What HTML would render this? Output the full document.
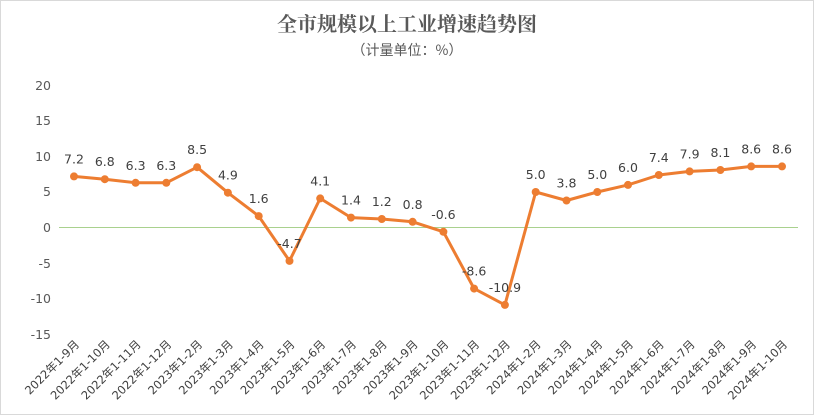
<!DOCTYPE html>
<html><head><meta charset="utf-8"><style>
html,body{margin:0;padding:0;background:#fff}
svg{display:block}
text{font-family:"DejaVu Sans","Noto Sans CJK SC",sans-serif}
</style></head><body>
<svg width="814" height="415" viewBox="0 0 814 415" xmlns="http://www.w3.org/2000/svg">
<rect x="0.5" y="0.5" width="813" height="414" fill="#fff" stroke="#d9d9d9"/>
<text x="407" y="31" text-anchor="middle" font-size="20" font-weight="bold" fill="#595959" style="font-family:'Noto Serif CJK SC','Noto Sans CJK SC',serif">全市规模以上工业增速趋势图</text>
<text x="407" y="55" text-anchor="middle" font-size="14" fill="#595959" style="font-family:'Noto Sans CJK SC',sans-serif">（计量单位：%）</text>
<g font-size="12.5" fill="#595959" text-anchor="end">
<text x="51" y="90">20</text><text x="51" y="125">15</text><text x="51" y="161">10</text><text x="51" y="196">5</text><text x="51" y="232">0</text><text x="51" y="268">-5</text><text x="51" y="303">-10</text><text x="51" y="339">-15</text>
</g>
<line x1="59" y1="227.5" x2="798" y2="227.5" stroke="#a9d18e" stroke-width="1"/>
<polyline fill="none" stroke="#ED7D31" stroke-width="3" stroke-linejoin="round" points="74,176.4 104.8,179.2 135.6,182.8 166.3,182.8 197.1,167.2 227.9,192.7 258.7,216.1 289.5,260.9 320.2,198.4 351,217.6 381.8,219 412.6,221.8 443.4,231.8 474.1,288.6 504.9,304.9 535.7,192 566.5,200.5 597.3,192 628,184.9 658.8,175 689.6,171.4 720.4,170 751.2,166.4 782,166.4"/>
<g fill="#ED7D31">
<circle cx="74" cy="176.4" r="4"/><circle cx="104.8" cy="179.2" r="4"/><circle cx="135.6" cy="182.8" r="4"/><circle cx="166.3" cy="182.8" r="4"/><circle cx="197.1" cy="167.2" r="4"/><circle cx="227.9" cy="192.7" r="4"/><circle cx="258.7" cy="216.1" r="4"/><circle cx="289.5" cy="260.9" r="4"/><circle cx="320.2" cy="198.4" r="4"/><circle cx="351" cy="217.6" r="4"/><circle cx="381.8" cy="219" r="4"/><circle cx="412.6" cy="221.8" r="4"/><circle cx="443.4" cy="231.8" r="4"/><circle cx="474.1" cy="288.6" r="4"/><circle cx="504.9" cy="304.9" r="4"/><circle cx="535.7" cy="192" r="4"/><circle cx="566.5" cy="200.5" r="4"/><circle cx="597.3" cy="192" r="4"/><circle cx="628" cy="184.9" r="4"/><circle cx="658.8" cy="175" r="4"/><circle cx="689.6" cy="171.4" r="4"/><circle cx="720.4" cy="170" r="4"/><circle cx="751.2" cy="166.4" r="4"/><circle cx="782" cy="166.4" r="4"/>
</g>
<g font-size="12.5" fill="#404040" text-anchor="middle">
<text x="74" y="163.4">7.2</text><text x="104.8" y="166.2">6.8</text><text x="135.6" y="169.8">6.3</text><text x="166.3" y="169.8">6.3</text><text x="197.1" y="154.2">8.5</text><text x="227.9" y="179.7">4.9</text><text x="258.7" y="203.1">1.6</text><text x="289.5" y="247.9">-4.7</text><text x="320.2" y="185.4">4.1</text><text x="351" y="204.6">1.4</text><text x="381.8" y="206">1.2</text><text x="412.6" y="208.8">0.8</text><text x="443.4" y="218.8">-0.6</text><text x="474.1" y="275.6">-8.6</text><text x="504.9" y="291.9">-10.9</text><text x="535.7" y="179">5.0</text><text x="566.5" y="187.5">3.8</text><text x="597.3" y="179">5.0</text><text x="628" y="171.9">6.0</text><text x="658.8" y="162">7.4</text><text x="689.6" y="158.4">7.9</text><text x="720.4" y="157">8.1</text><text x="751.2" y="153.4">8.6</text><text x="782" y="153.4">8.6</text>
</g>
<g font-size="11.5" fill="#404040" text-anchor="end" style="font-family:'DejaVu Sans','Noto Sans CJK SC',sans-serif">
<text transform="translate(80,345) rotate(-45)">2022年1-9月</text>
<text transform="translate(110.8,345) rotate(-45)">2022年1-10月</text>
<text transform="translate(141.6,345) rotate(-45)">2022年1-11月</text>
<text transform="translate(172.3,345) rotate(-45)">2022年1-12月</text>
<text transform="translate(203.1,345) rotate(-45)">2023年1-2月</text>
<text transform="translate(233.9,345) rotate(-45)">2023年1-3月</text>
<text transform="translate(264.7,345) rotate(-45)">2023年1-4月</text>
<text transform="translate(295.5,345) rotate(-45)">2023年1-5月</text>
<text transform="translate(326.2,345) rotate(-45)">2023年1-6月</text>
<text transform="translate(357,345) rotate(-45)">2023年1-7月</text>
<text transform="translate(387.8,345) rotate(-45)">2023年1-8月</text>
<text transform="translate(418.6,345) rotate(-45)">2023年1-9月</text>
<text transform="translate(449.4,345) rotate(-45)">2023年1-10月</text>
<text transform="translate(480.1,345) rotate(-45)">2023年1-11月</text>
<text transform="translate(510.9,345) rotate(-45)">2023年1-12月</text>
<text transform="translate(541.7,345) rotate(-45)">2024年1-2月</text>
<text transform="translate(572.5,345) rotate(-45)">2024年1-3月</text>
<text transform="translate(603.3,345) rotate(-45)">2024年1-4月</text>
<text transform="translate(634,345) rotate(-45)">2024年1-5月</text>
<text transform="translate(664.8,345) rotate(-45)">2024年1-6月</text>
<text transform="translate(695.6,345) rotate(-45)">2024年1-7月</text>
<text transform="translate(726.4,345) rotate(-45)">2024年1-8月</text>
<text transform="translate(757.2,345) rotate(-45)">2024年1-9月</text>
<text transform="translate(788,345) rotate(-45)">2024年1-10月</text>
</g>
</svg>
</body></html>
